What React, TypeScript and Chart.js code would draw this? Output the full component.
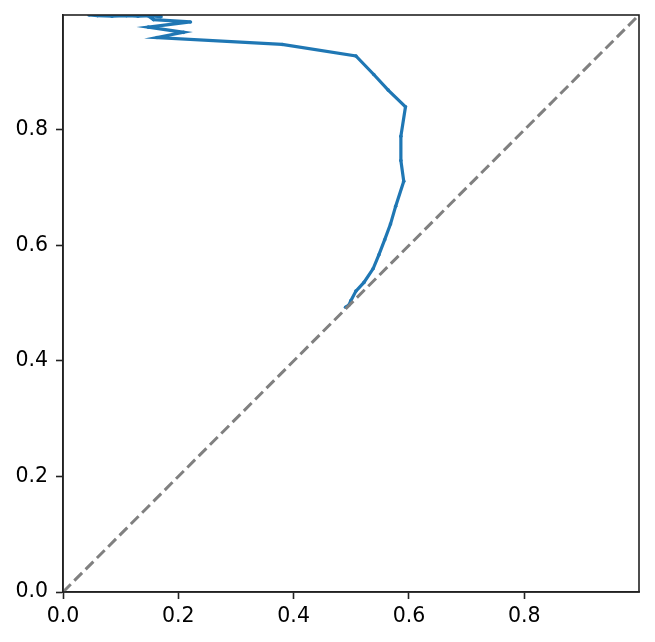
import React, { useEffect, useRef } from "react";
import { Chart, registerables } from "chart.js";

Chart.register(...registerables);

const curveX = [0.490, 0.496, 0.499, 0.508, 0.522, 0.538, 0.548, 0.558, 0.568, 0.577, 0.591, 0.586, 0.586, 0.594, 0.564, 0.539, 0.508, 0.380, 0.163, 0.209, 0.148, 0.221, 0.157, 0.147, 0.170, 0.155, 0.130, 0.110, 0.085, 0.060, 0.045];
const curveY = [0.493, 0.497, 0.504, 0.521, 0.536, 0.560, 0.584, 0.610, 0.637, 0.668, 0.711, 0.747, 0.789, 0.840, 0.869, 0.896, 0.928, 0.948, 0.960, 0.969, 0.978, 0.987, 0.991, 0.998, 0.996, 0.998, 0.997, 0.998, 0.997, 0.998, 0.999];
const diagX = [0, 0.999];
const diagY = [0, 0.999];
const xTicks = [0, 0.2, 0.4, 0.6, 0.8];
const yTicks = [0, 0.2, 0.4, 0.6, 0.8];
const axisMax = 0.999;

const framePlugin = {
  id: "frame",
  afterDatasetsDraw(chart: any) {
    const { ctx, chartArea } = chart;
    ctx.save();
    ctx.strokeStyle = "#222";
    ctx.lineWidth = 1.6;
    ctx.strokeRect(chartArea.left, chartArea.top, chartArea.right - chartArea.left, chartArea.bottom - chartArea.top);
    ctx.restore();
  },
};

export default function App() {
  const ref = useRef<HTMLCanvasElement | null>(null);
  useEffect(() => {
    if (!ref.current) return;
    const font = { family: "'DejaVu Sans', sans-serif", size: 20.5 };
    const axisCommon = {
      type: "linear" as const,
      min: 0,
      max: axisMax,
      grid: { drawOnChartArea: false, drawTicks: true, tickLength: 7, tickWidth: 1.6, tickColor: "#222" },
      border: { display: true, color: "#222", width: 1.6 },
    };
    const chart = new Chart(ref.current, {
      type: "line",
      data: {
        datasets: [
          {
            data: diagX.map((x, i) => ({ x, y: diagY[i] })),
            borderColor: "#808080",
            borderWidth: 3,
            borderDash: [11, 5],
            pointRadius: 0,
            clip: 0,
          },
          {
            data: curveX.map((x, i) => ({ x, y: curveY[i] })),
            borderColor: "#1f77b4",
            backgroundColor: "#1f77b4",
            borderWidth: 3.2,
            pointRadius: 1.8,
            pointBorderWidth: 0,
            pointBackgroundColor: "#1f77b4",
            tension: 0,
            clip: 0,
          },
        ],
      },
      options: {
        responsive: false,
        animation: false,
        devicePixelRatio: 1,
        layout: { padding: { left: 0, top: 15, right: 16, bottom: 0 } },
        plugins: { legend: { display: false }, tooltip: { enabled: false } },
        scales: {
          x: {
            ...axisCommon,
            afterFit(scale: any) { scale.height = 50; scale.paddingLeft = 0; scale.paddingRight = 0; },
            afterBuildTicks(scale: any) { scale.ticks = xTicks.map((v) => ({ value: v })); },
            ticks: { font, color: "#000", padding: 5, maxRotation: 0, callback: (v: any) => Number(v).toFixed(1) },
          },
          y: {
            ...axisCommon,
            afterFit(scale: any) { scale.width = 63; scale.paddingTop = 0; scale.paddingBottom = 0; },
            afterBuildTicks(scale: any) { scale.ticks = yTicks.map((v) => ({ value: v })); },
            ticks: { font, color: "#000", padding: 8, callback: (v: any) => Number(v).toFixed(1) },
          },
        },
      },
      plugins: [framePlugin],
    });
    return () => chart.destroy();
  }, []);
  return (
    <div style={{ position: "absolute", left: 0, top: 0, width: 655, height: 642, background: "#fff" }}>
      <canvas ref={ref} width={655} height={642} />
    </div>
  );
}
